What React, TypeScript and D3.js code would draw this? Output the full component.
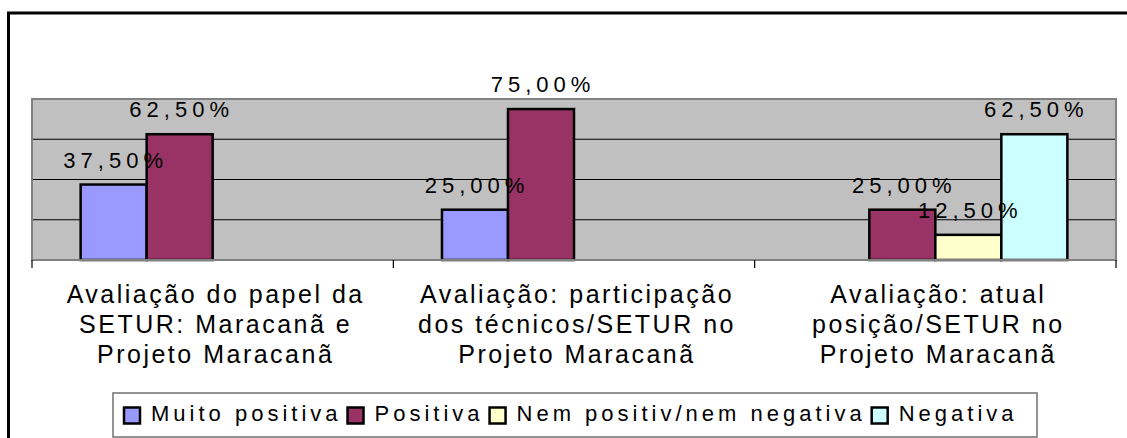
import { useRef, useEffect } from "react";
import * as d3 from "d3";

// categories, one entry per line of the axis label
const categories = [
  ["Avaliação do papel da", "SETUR: Maracanã e", "Projeto Maracanã"],
  ["Avaliação: participação", "dos técnicos/SETUR no", "Projeto Maracanã"],
  ["Avaliação: atual", "posição/SETUR no", "Projeto Maracanã"],
];

const seriesNames = ["Muito positiva", "Positiva", "Nem positiv/nem negativa", "Negativa"];
const seriesColors = ["#9999FF", "#993366", "#FFFFCC", "#CCFFFF"];

const muitoPositiva = [0.375, 0.25, null];
const positiva = [0.625, 0.75, 0.25];
const nemPositiv = [null, null, 0.125];
const negativa = [null, null, 0.625];

const yTicks = [0.2, 0.4, 0.6];

const FONT = "'Liberation Sans', Arial, sans-serif";

function BarChart() {
  const svgRef = useRef<SVGSVGElement>(null);

  useEffect(() => {
    const WIDTH = 1127;
    const HEIGHT = 438;
    const plot = { left: 32, top: 99, right: 1116, bottom: 260 };

    const series = [muitoPositiva, positiva, nemPositiv, negativa];

    const svg = d3.select(svgRef.current)
      .attr("width", WIDTH)
      .attr("height", HEIGHT);
    svg.selectAll("*").remove();

    const pt = d3.formatLocale({ decimal: ",", thousands: ".", grouping: [3], currency: ["R$", ""] });
    const fmt = pt.format(".2%");

    // outer chart border (runs past the picture on the right and bottom)
    svg.append("rect")
      .attr("x", 8.5).attr("y", 13)
      .attr("width", 1140).attr("height", 450)
      .attr("fill", "#fff")
      .attr("stroke", "#000")
      .attr("stroke-width", 3);

    const xScale = d3.scaleBand<number>()
      .domain(d3.range(categories.length))
      .range([plot.left, plot.right]);

    const xInner = d3.scaleBand<number>()
      .domain(d3.range(series.length))
      .range([0, xScale.bandwidth()])
      .paddingOuter(0.737);

    const yScale = d3.scaleLinear()
      .domain([0, 0.8])
      .range([plot.bottom, plot.top]);

    // plot area
    svg.append("rect")
      .attr("x", plot.left).attr("y", plot.top)
      .attr("width", plot.right - plot.left)
      .attr("height", plot.bottom - plot.top)
      .attr("fill", "#C0C0C0")
      .attr("stroke", "#808080")
      .attr("stroke-width", 2);

    svg.append("g")
      .selectAll("line")
      .data(yTicks)
      .join("line")
      .attr("x1", plot.left + 1).attr("x2", plot.right - 1)
      .attr("y1", d => yScale(d)).attr("y2", d => yScale(d))
      .attr("stroke", "#000")
      .attr("stroke-width", 1);

    // bars
    series.forEach((values, si) => {
      const g = svg.append("g");
      const data = values
        .map((v, ci) => ({ v, ci }))
        .filter(d => d.v != null) as { v: number; ci: number }[];

      g.selectAll("rect")
        .data(data)
        .join("rect")
        .attr("x", d => xScale(d.ci)! + xInner(si)!)
        .attr("y", d => yScale(d.v))
        .attr("width", xInner.bandwidth())
        .attr("height", d => yScale(0) - yScale(d.v))
        .attr("fill", seriesColors[si])
        .attr("stroke", "#000")
        .attr("stroke-width", 2.5);
    });

    // value labels drawn after all bars
    series.forEach((values, si) => {
      const data = values
        .map((v, ci) => ({ v, ci }))
        .filter(d => d.v != null) as { v: number; ci: number }[];
      svg.append("g")
        .selectAll("text")
        .data(data)
        .join("text")
        .attr("x", d => xScale(d.ci)! + xInner(si)! + xInner.bandwidth() / 2 + 2)
        .attr("y", d => yScale(d.v) - 17)
        .attr("text-anchor", "middle")
        .style("font-family", FONT)
        .style("font-size", "22px")
        .style("letter-spacing", "5px")
        .attr("fill", "#000")
        .text(d => fmt(d.v));
    });

    // x axis line + ticks
    const axis = svg.append("g");
    axis.append("line")
      .attr("x1", plot.left).attr("x2", plot.right)
      .attr("y1", plot.bottom).attr("y2", plot.bottom)
      .attr("stroke", "#808080")
      .attr("stroke-width", 2);
    axis.selectAll("line.tick")
      .data(d3.range(categories.length + 1))
      .join("line")
      .attr("class", "tick")
      .attr("x1", i => plot.left + i * xScale.step())
      .attr("x2", i => plot.left + i * xScale.step())
      .attr("y1", plot.bottom)
      .attr("y2", plot.bottom + 8)
      .attr("stroke", "#000")
      .attr("stroke-width", 1.2);

    // category labels
    categories.forEach((lines, ci) => {
      const t = svg.append("text")
        .attr("text-anchor", "middle")
        .style("font-family", FONT)
        .style("font-size", "25px")
        .style("letter-spacing", "2.5px")
        .attr("fill", "#000");
      lines.forEach((line, li) => {
        t.append("tspan")
          .attr("x", xScale(ci)! + xScale.bandwidth() / 2 + 3)
          .attr("y", plot.bottom + 43 + li * 30)
          .text(line);
      });
    });

    // legend
    const legendBox = { x: 113, y: 393, w: 924, h: 44 };
    svg.append("rect")
      .attr("x", legendBox.x).attr("y", legendBox.y)
      .attr("width", legendBox.w).attr("height", legendBox.h)
      .attr("fill", "#fff")
      .attr("stroke", "#707070")
      .attr("stroke-width", 1.5);

    const legend = svg.append("g");
    let lx = legendBox.x + 11;
    seriesNames.forEach((name, si) => {
      legend.append("rect")
        .attr("x", lx).attr("y", 407.5)
        .attr("width", 16).attr("height", 16)
        .attr("fill", seriesColors[si])
        .attr("stroke", "#000")
        .attr("stroke-width", 2.5);
      const txt = legend.append("text")
        .attr("x", lx + 27)
        .attr("y", 421)
        .style("font-family", FONT)
        .style("font-size", "22px")
        .style("letter-spacing", "4px")
        .attr("fill", "#000")
        .text(name);
      const w = (txt.node() as SVGTextElement).getBBox().width;
      lx = lx + 27 + w + 6;
    });
  }, []);

  return <svg ref={svgRef} style={{ position: "absolute", left: 0, top: 0 }} />;
}

export default function App() {
  return (
    <div id="chartArea">
      <BarChart />
    </div>
  );
}
